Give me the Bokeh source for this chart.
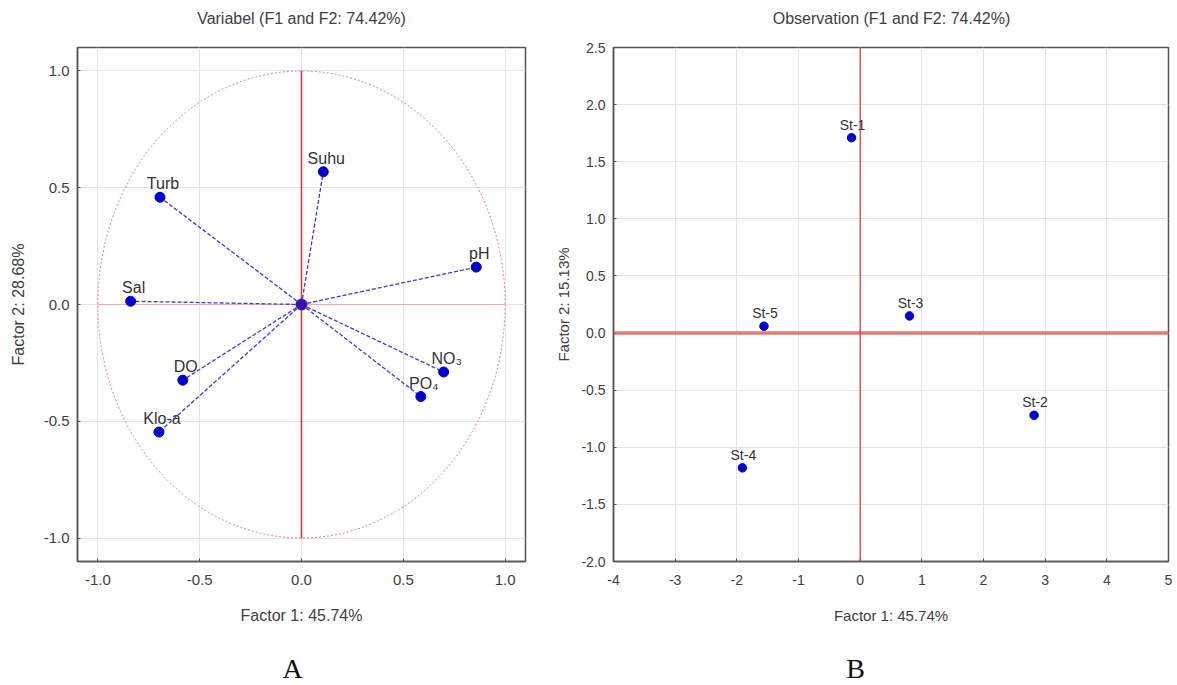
from bokeh.plotting import figure
from bokeh.layouts import row, column
from bokeh.core.properties import value
from bokeh.models import (Range1d, Label, FixedTicker, Span, ColumnDataSource,
                          LabelSet, PrintfTickFormatter)
from bokeh.embed import file_html
from bokeh.resources import INLINE

# ---------------- data ----------------
var_names = ["Suhu", "Turb", "pH", "Sal", "DO", "Klo-a", "NO\u2083", "PO\u2084"]
var_f1 = [0.107, -0.695, 0.858, -0.839, -0.583, -0.700, 0.698, 0.586]
var_f2 = [0.568, 0.459, 0.160, 0.014, -0.324, -0.546, -0.289, -0.394]

obs_names = ["St-1", "St-2", "St-3", "St-4", "St-5"]
obs_f1 = [-0.14, 2.82, 0.80, -1.91, -1.56]
obs_f2 = [1.71, -0.72, 0.15, -1.18, 0.06]

left_ticks = [-1.0, -0.5, 0.0, 0.5, 1.0]
right_xticks = [-4, -3, -2, -1, 0, 1, 2, 3, 4, 5]
right_yticks = [-2.0, -1.5, -1.0, -0.5, 0.0, 0.5, 1.0, 1.5, 2.0, 2.5]
unit_radius = [1.0]
origin = [0.0]

FONT = "Liberation Sans"
TXT = "#404040"
BLUE = "#0000cc"
W1, W2 = 540, 636
TOP_H, MAIN_H, BOT_H = 36, 610, 38


def text_strip(width, height, text, x, y, font, size, color):
    f = figure(width=width, height=height, x_range=Range1d(0, 1), y_range=Range1d(0, 1),
               output_backend="svg", toolbar_location=None, x_axis_type=None,
               y_axis_type=None, min_border=0, outline_line_color=None)
    f.grid.visible = False
    f.add_layout(Label(x=x, y=y, x_units="screen", y_units="screen", text=text,
                       text_align="center", text_baseline="middle", text_font=font,
                       text_font_size=size, text_color=color))
    return f


def style(p, tick_size, lab_size, ylab_standoff):
    for ax in (p.xaxis[0], p.yaxis[0]):
        ax.axis_line_color = "#555555"
        ax.axis_line_width = 1.5
        ax.major_tick_line_color = "#555555"
        ax.major_tick_in = 3
        ax.major_tick_out = 0
        ax.minor_tick_line_color = None
        ax.major_label_text_font = FONT
        ax.major_label_text_font_size = tick_size
        ax.major_label_text_color = TXT
        ax.axis_label_text_font = FONT
        ax.axis_label_text_font_size = lab_size
        ax.axis_label_text_font_style = "normal"
        ax.axis_label_text_color = TXT
    p.xaxis[0].major_label_standoff = 13
    p.yaxis[0].major_label_standoff = 8
    p.xaxis[0].axis_label_standoff = 19
    p.yaxis[0].axis_label_standoff = ylab_standoff
    p.outline_line_color = "#555555"
    p.outline_line_width = 1.5
    p.grid.grid_line_color = "#e4e4e4"
    p.grid.grid_line_width = 1
    p.background_fill_color = "white"
    p.border_fill_color = "white"


# ---------------- left: variables ----------------
p1 = figure(width=W1, height=MAIN_H, x_range=Range1d(-1.1, 1.1), y_range=Range1d(-1.1, 1.1),
            output_backend="svg", toolbar_location=None,
            min_border_left=77, min_border_right=15, min_border_top=9, min_border_bottom=83,
            x_axis_label="Factor 1: 45.74%", y_axis_label="Factor 2: 28.68%")
p1.xaxis.ticker = FixedTicker(ticks=left_ticks)
p1.yaxis.ticker = FixedTicker(ticks=left_ticks)
p1.xaxis.formatter = PrintfTickFormatter(format="%.1f")
p1.yaxis.formatter = PrintfTickFormatter(format="%.1f")
style(p1, "15px", "16px", 14)

r = unit_radius[0]
# correlation circle
p1.ellipse(x=origin, y=origin, width=[2 * r], height=[2 * r], fill_color=None,
           line_color="#e07a7a", line_width=1, line_dash="2 2")
# axes through the origin
p1.segment(x0=[-r], y0=origin, x1=[r], y1=origin, line_color="#eab0b0", line_width=1.2)
p1.segment(x0=origin, y0=[-r], x1=origin, y1=[r], line_color="#e03030", line_width=1.5)

src1 = ColumnDataSource(dict(x=var_f1, y=var_f2, name=var_names,
                             x0=origin * len(var_f1), y0=origin * len(var_f2)))
p1.segment(x0="x0", y0="y0", x1="x", y1="y", source=src1,
           line_color="#3c3cd0", line_width=1.3, line_dash="4 2")
p1.scatter(x="x", y="y", source=src1, size=10, color=BLUE)
p1.scatter(x=origin, y=origin, size=11, color="#3a10b0")
p1.add_layout(LabelSet(x="x", y="y", text="name", source=src1, text_align="center",
                       text_baseline="alphabetic", x_offset=3, y_offset=8,
                       text_font=value(FONT), text_font_size=value("16px"),
                       text_color="#333333"))

# ---------------- right: observations ----------------
p2 = figure(width=W2, height=MAIN_H, x_range=Range1d(-4, 5), y_range=Range1d(-2.0, 2.5),
            output_backend="svg", toolbar_location=None,
            min_border_left=73, min_border_right=8, min_border_top=11, min_border_bottom=85,
            x_axis_label="Factor 1: 45.74%", y_axis_label="Factor 2: 15.13%")
p2.xaxis.ticker = FixedTicker(ticks=right_xticks)
p2.yaxis.ticker = FixedTicker(ticks=right_yticks)
p2.xaxis.formatter = PrintfTickFormatter(format="%d")
p2.yaxis.formatter = PrintfTickFormatter(format="%.1f")
style(p2, "14px", "15px", 6)

p2.add_layout(Span(location=0, dimension="width", line_color="#e05a5a", line_width=3.5,
                   line_alpha=0.8))
p2.add_layout(Span(location=0, dimension="height", line_color="#e03030", line_width=1.2))

src2 = ColumnDataSource(dict(x=obs_f1, y=obs_f2, name=obs_names))
p2.scatter(x="x", y="y", source=src2, size=8.5, color=BLUE)
p2.add_layout(LabelSet(x="x", y="y", text="name", source=src2, text_align="center",
                       text_baseline="alphabetic", x_offset=1, y_offset=8,
                       text_font=value(FONT), text_font_size=value("14px"),
                       text_color="#333333"))

# ---------------- titles and panel letters ----------------
t1 = text_strip(W1, TOP_H, "Variabel (F1 and F2: 74.42%)", 301, 18, FONT, "16px", TXT)
t2 = text_strip(W2, TOP_H, "Observation (F1 and F2: 74.42%)", 351, 18, FONT, "16px", TXT)
a1 = text_strip(W1, BOT_H, "A", 292, 16, "Liberation Serif", "28px", "#111111")
a2 = text_strip(W2, BOT_H, "B", 315, 16, "Liberation Serif", "28px", "#111111")

layout = column(row(t1, t2, spacing=0), row(p1, p2, spacing=0), row(a1, a2, spacing=0),
                spacing=0)
open("out.html", "w").write(file_html(layout, INLINE))
